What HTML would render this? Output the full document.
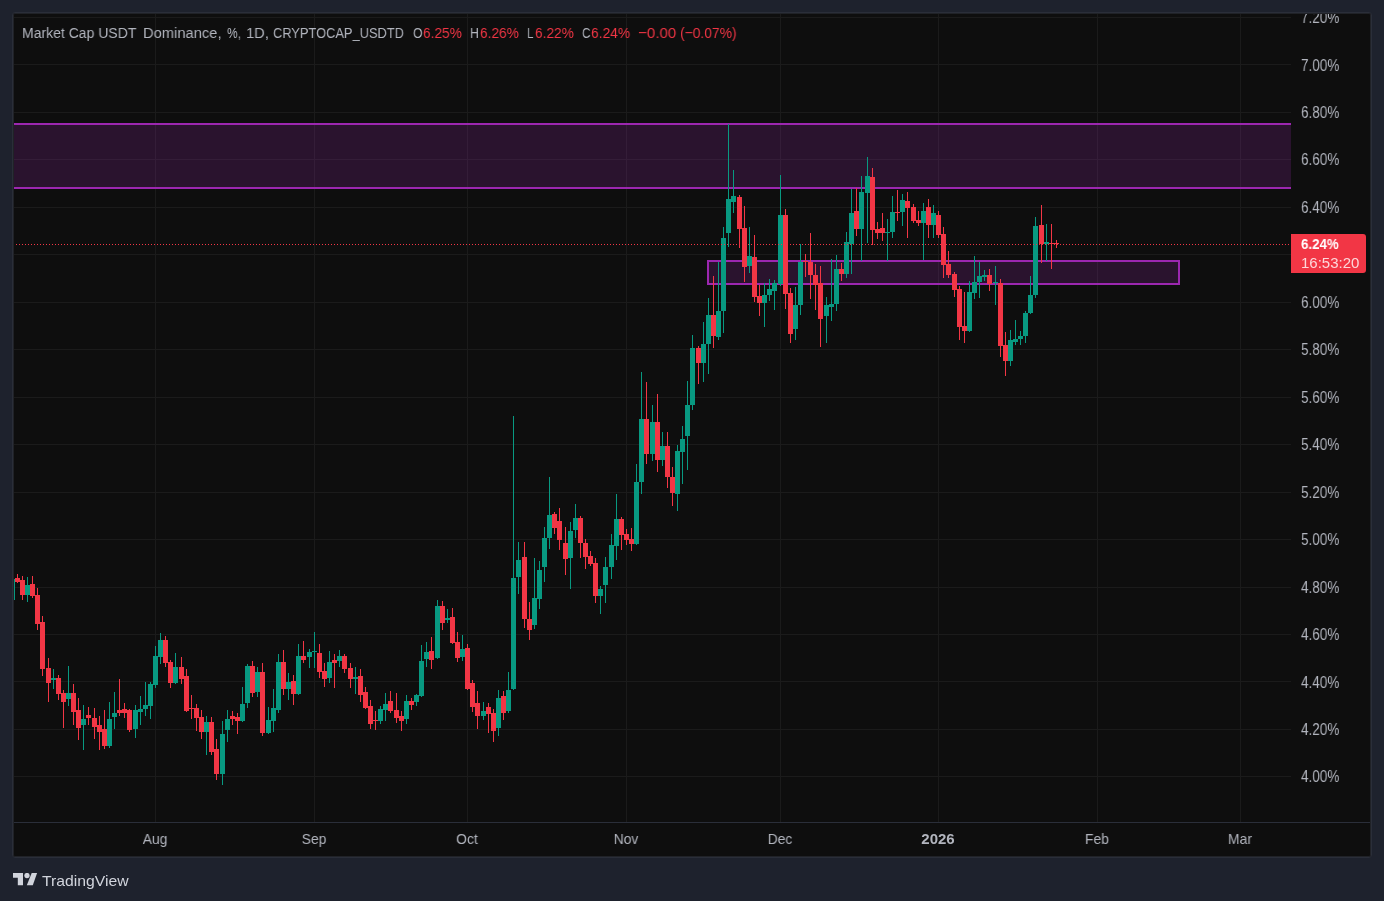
<!DOCTYPE html>
<html><head><meta charset="utf-8">
<style>
html,body{margin:0;padding:0;}
body{-webkit-font-smoothing:antialiased;width:1384px;height:901px;background:#1e222d;position:relative;overflow:hidden;font-family:"Liberation Sans",sans-serif;}
#panel{position:absolute;left:12px;top:12px;width:1360px;height:846px;box-sizing:border-box;border:1px solid #2a2e39;border-radius:3px;background:#0e0e0e;box-shadow:inset 0 0 0 1px #202227;}
.pl{will-change:transform;position:absolute;left:1301px;font-size:16px;line-height:17px;transform:scaleX(0.845);transform-origin:0 0;color:#b2b5be;white-space:nowrap;}
.tl{will-change:transform;position:absolute;top:830.3px;width:80px;text-align:center;font-size:15px;transform:scaleX(0.93);line-height:17px;color:#b2b5be;}
.tl.b{font-weight:bold;transform:scaleX(1.0);}
#hdr{}
.hp{will-change:transform;position:absolute;top:23.6px;font-size:15.5px;line-height:17px;white-space:nowrap;transform-origin:0 0;}
.r{color:#f23645;}
#plab{position:absolute;left:1291px;top:234px;width:75px;height:39px;background:#f23645;border-radius:0 3px 3px 0;}
#plab div{will-change:transform;position:absolute;left:10px;font-size:14px;line-height:17px;color:#fff;white-space:nowrap;}
#clip{position:absolute;left:14px;top:14px;width:1356px;height:842px;overflow:hidden;}
#logo{position:absolute;left:13px;top:872.6px;}
#logotxt{will-change:transform;position:absolute;left:41.5px;top:871.5px;font-size:15px;line-height:18px;color:#d1d4dc;transform:scaleX(1.05);transform-origin:0 0;}
</style></head><body>
<div id="panel"></div>
<svg width="1384" height="901" style="position:absolute;left:0;top:0" shape-rendering="crispEdges">
<defs><clipPath id="pc"><rect x="14" y="14" width="1277" height="808"/></clipPath></defs>
<g clip-path="url(#pc)">
<rect x="14" y="776" width="1277" height="1" fill="#1b1b1b"/><rect x="14" y="729" width="1277" height="1" fill="#1b1b1b"/><rect x="14" y="681" width="1277" height="1" fill="#1b1b1b"/><rect x="14" y="634" width="1277" height="1" fill="#1b1b1b"/><rect x="14" y="587" width="1277" height="1" fill="#1b1b1b"/><rect x="14" y="539" width="1277" height="1" fill="#1b1b1b"/><rect x="14" y="492" width="1277" height="1" fill="#1b1b1b"/><rect x="14" y="444" width="1277" height="1" fill="#1b1b1b"/><rect x="14" y="397" width="1277" height="1" fill="#1b1b1b"/><rect x="14" y="349" width="1277" height="1" fill="#1b1b1b"/><rect x="14" y="302" width="1277" height="1" fill="#1b1b1b"/><rect x="14" y="254" width="1277" height="1" fill="#1b1b1b"/><rect x="14" y="207" width="1277" height="1" fill="#1b1b1b"/><rect x="14" y="159" width="1277" height="1" fill="#1b1b1b"/><rect x="14" y="112" width="1277" height="1" fill="#1b1b1b"/><rect x="14" y="64" width="1277" height="1" fill="#1b1b1b"/><rect x="14" y="17" width="1277" height="1" fill="#1b1b1b"/><rect x="155" y="14" width="1" height="808" fill="#1b1b1b"/><rect x="314" y="14" width="1" height="808" fill="#1b1b1b"/><rect x="467" y="14" width="1" height="808" fill="#1b1b1b"/><rect x="626" y="14" width="1" height="808" fill="#1b1b1b"/><rect x="780" y="14" width="1" height="808" fill="#1b1b1b"/><rect x="938" y="14" width="1" height="808" fill="#1b1b1b"/><rect x="1097" y="14" width="1" height="808" fill="#1b1b1b"/><rect x="1240" y="14" width="1" height="808" fill="#1b1b1b"/>
<rect x="14" y="123" width="1277" height="66" fill="rgba(156,39,176,0.2)"/><rect x="14" y="123" width="1277" height="2" fill="#9c27b0"/><rect x="14" y="187" width="1277" height="2" fill="#9c27b0"/><rect x="707" y="260" width="473" height="25" fill="rgba(156,39,176,0.2)"/><rect x="708" y="261" width="471" height="23" fill="none" stroke="#9c27b0" stroke-width="2"/>
<rect x="12" y="577" width="1" height="25" fill="#089981"/><rect x="10" y="579" width="5" height="21" fill="#089981"/><rect x="17" y="574" width="1" height="9" fill="#f23645"/><rect x="15" y="578" width="5" height="4" fill="#f23645"/><rect x="22" y="576" width="1" height="24" fill="#f23645"/><rect x="20" y="580" width="5" height="15" fill="#f23645"/><rect x="27" y="577" width="1" height="25" fill="#089981"/><rect x="25" y="585" width="5" height="10" fill="#089981"/><rect x="32" y="576" width="1" height="22" fill="#f23645"/><rect x="30" y="584" width="5" height="12" fill="#f23645"/><rect x="37" y="588" width="1" height="42" fill="#f23645"/><rect x="35" y="595" width="5" height="29" fill="#f23645"/><rect x="42" y="616" width="1" height="60" fill="#f23645"/><rect x="40" y="622" width="5" height="47" fill="#f23645"/><rect x="48" y="658" width="1" height="44" fill="#f23645"/><rect x="46" y="668" width="5" height="15" fill="#f23645"/><rect x="53" y="669" width="1" height="20" fill="#089981"/><rect x="51" y="678" width="5" height="2" fill="#089981"/><rect x="58" y="675" width="1" height="25" fill="#f23645"/><rect x="56" y="678" width="5" height="16" fill="#f23645"/><rect x="63" y="690" width="1" height="38" fill="#f23645"/><rect x="61" y="693" width="5" height="9" fill="#f23645"/><rect x="68" y="666" width="1" height="40" fill="#089981"/><rect x="66" y="693" width="5" height="6" fill="#089981"/><rect x="73" y="684" width="1" height="41" fill="#f23645"/><rect x="71" y="693" width="5" height="19" fill="#f23645"/><rect x="78" y="698" width="1" height="42" fill="#f23645"/><rect x="76" y="710" width="5" height="18" fill="#f23645"/><rect x="83" y="705" width="1" height="45" fill="#089981"/><rect x="81" y="719" width="5" height="6" fill="#089981"/><rect x="88" y="707" width="1" height="18" fill="#f23645"/><rect x="86" y="715" width="5" height="3" fill="#f23645"/><rect x="94" y="708" width="1" height="31" fill="#f23645"/><rect x="92" y="718" width="5" height="9" fill="#f23645"/><rect x="99" y="716" width="1" height="34" fill="#f23645"/><rect x="97" y="725" width="5" height="7" fill="#f23645"/><rect x="104" y="710" width="1" height="39" fill="#f23645"/><rect x="102" y="729" width="5" height="17" fill="#f23645"/><rect x="109" y="702" width="1" height="46" fill="#089981"/><rect x="107" y="719" width="5" height="27" fill="#089981"/><rect x="114" y="692" width="1" height="37" fill="#089981"/><rect x="112" y="713" width="5" height="4" fill="#089981"/><rect x="119" y="679" width="1" height="37" fill="#f23645"/><rect x="117" y="710" width="5" height="3" fill="#f23645"/><rect x="124" y="703" width="1" height="15" fill="#f23645"/><rect x="122" y="709" width="5" height="4" fill="#f23645"/><rect x="129" y="709" width="1" height="23" fill="#f23645"/><rect x="127" y="710" width="5" height="20" fill="#f23645"/><rect x="135" y="705" width="1" height="33" fill="#089981"/><rect x="133" y="710" width="5" height="19" fill="#089981"/><rect x="140" y="696" width="1" height="29" fill="#089981"/><rect x="138" y="709" width="5" height="3" fill="#089981"/><rect x="145" y="682" width="1" height="34" fill="#089981"/><rect x="143" y="705" width="5" height="4" fill="#089981"/><rect x="150" y="682" width="1" height="37" fill="#089981"/><rect x="148" y="684" width="5" height="22" fill="#089981"/><rect x="155" y="646" width="1" height="42" fill="#089981"/><rect x="153" y="656" width="5" height="29" fill="#089981"/><rect x="160" y="633" width="1" height="31" fill="#089981"/><rect x="158" y="640" width="5" height="17" fill="#089981"/><rect x="165" y="636" width="1" height="31" fill="#f23645"/><rect x="163" y="640" width="5" height="23" fill="#f23645"/><rect x="170" y="660" width="1" height="28" fill="#f23645"/><rect x="168" y="662" width="5" height="21" fill="#f23645"/><rect x="175" y="653" width="1" height="31" fill="#089981"/><rect x="173" y="667" width="5" height="16" fill="#089981"/><rect x="181" y="657" width="1" height="27" fill="#f23645"/><rect x="179" y="667" width="5" height="12" fill="#f23645"/><rect x="186" y="669" width="1" height="43" fill="#f23645"/><rect x="184" y="676" width="5" height="35" fill="#f23645"/><rect x="191" y="695" width="1" height="24" fill="#f23645"/><rect x="189" y="708" width="5" height="1" fill="#f23645"/><rect x="196" y="704" width="1" height="27" fill="#f23645"/><rect x="194" y="708" width="5" height="10" fill="#f23645"/><rect x="201" y="710" width="1" height="29" fill="#f23645"/><rect x="199" y="717" width="5" height="15" fill="#f23645"/><rect x="206" y="716" width="1" height="39" fill="#089981"/><rect x="204" y="722" width="5" height="10" fill="#089981"/><rect x="211" y="717" width="1" height="38" fill="#f23645"/><rect x="209" y="722" width="5" height="30" fill="#f23645"/><rect x="216" y="739" width="1" height="41" fill="#f23645"/><rect x="214" y="749" width="5" height="25" fill="#f23645"/><rect x="222" y="721" width="1" height="64" fill="#089981"/><rect x="220" y="734" width="5" height="40" fill="#089981"/><rect x="227" y="710" width="1" height="32" fill="#089981"/><rect x="225" y="719" width="5" height="11" fill="#089981"/><rect x="232" y="711" width="1" height="14" fill="#f23645"/><rect x="230" y="716" width="5" height="3" fill="#f23645"/><rect x="237" y="713" width="1" height="21" fill="#f23645"/><rect x="235" y="717" width="5" height="4" fill="#f23645"/><rect x="242" y="687" width="1" height="35" fill="#089981"/><rect x="240" y="704" width="5" height="17" fill="#089981"/><rect x="247" y="664" width="1" height="44" fill="#089981"/><rect x="245" y="666" width="5" height="37" fill="#089981"/><rect x="252" y="661" width="1" height="36" fill="#f23645"/><rect x="250" y="666" width="5" height="27" fill="#f23645"/><rect x="257" y="667" width="1" height="30" fill="#089981"/><rect x="255" y="672" width="5" height="20" fill="#089981"/><rect x="262" y="663" width="1" height="73" fill="#f23645"/><rect x="260" y="672" width="5" height="61" fill="#f23645"/><rect x="268" y="707" width="1" height="27" fill="#089981"/><rect x="266" y="720" width="5" height="13" fill="#089981"/><rect x="273" y="689" width="1" height="43" fill="#089981"/><rect x="271" y="708" width="5" height="13" fill="#089981"/><rect x="278" y="654" width="1" height="59" fill="#089981"/><rect x="276" y="662" width="5" height="48" fill="#089981"/><rect x="283" y="650" width="1" height="45" fill="#f23645"/><rect x="281" y="662" width="5" height="27" fill="#f23645"/><rect x="288" y="673" width="1" height="27" fill="#089981"/><rect x="286" y="682" width="5" height="7" fill="#089981"/><rect x="293" y="675" width="1" height="30" fill="#f23645"/><rect x="291" y="681" width="5" height="13" fill="#f23645"/><rect x="298" y="644" width="1" height="51" fill="#089981"/><rect x="296" y="656" width="5" height="38" fill="#089981"/><rect x="303" y="641" width="1" height="22" fill="#f23645"/><rect x="301" y="656" width="5" height="4" fill="#f23645"/><rect x="309" y="649" width="1" height="19" fill="#089981"/><rect x="307" y="652" width="5" height="5" fill="#089981"/><rect x="314" y="632" width="1" height="36" fill="#089981"/><rect x="312" y="651" width="5" height="1" fill="#089981"/><rect x="319" y="644" width="1" height="34" fill="#f23645"/><rect x="317" y="653" width="5" height="19" fill="#f23645"/><rect x="324" y="663" width="1" height="24" fill="#f23645"/><rect x="322" y="671" width="5" height="8" fill="#f23645"/><rect x="329" y="651" width="1" height="32" fill="#089981"/><rect x="327" y="662" width="5" height="16" fill="#089981"/><rect x="334" y="654" width="1" height="34" fill="#f23645"/><rect x="332" y="660" width="5" height="3" fill="#f23645"/><rect x="339" y="650" width="1" height="17" fill="#089981"/><rect x="337" y="656" width="5" height="5" fill="#089981"/><rect x="344" y="654" width="1" height="19" fill="#f23645"/><rect x="342" y="656" width="5" height="13" fill="#f23645"/><rect x="350" y="663" width="1" height="25" fill="#f23645"/><rect x="348" y="668" width="5" height="11" fill="#f23645"/><rect x="355" y="667" width="1" height="27" fill="#089981"/><rect x="353" y="677" width="5" height="2" fill="#089981"/><rect x="360" y="669" width="1" height="33" fill="#f23645"/><rect x="358" y="676" width="5" height="19" fill="#f23645"/><rect x="365" y="687" width="1" height="22" fill="#f23645"/><rect x="363" y="692" width="5" height="16" fill="#f23645"/><rect x="370" y="700" width="1" height="29" fill="#f23645"/><rect x="368" y="706" width="5" height="18" fill="#f23645"/><rect x="375" y="711" width="1" height="19" fill="#f23645"/><rect x="373" y="720" width="5" height="1" fill="#f23645"/><rect x="380" y="706" width="1" height="18" fill="#089981"/><rect x="378" y="709" width="5" height="12" fill="#089981"/><rect x="385" y="693" width="1" height="28" fill="#089981"/><rect x="383" y="704" width="5" height="6" fill="#089981"/><rect x="390" y="691" width="1" height="22" fill="#f23645"/><rect x="388" y="701" width="5" height="10" fill="#f23645"/><rect x="396" y="693" width="1" height="30" fill="#f23645"/><rect x="394" y="710" width="5" height="8" fill="#f23645"/><rect x="401" y="711" width="1" height="20" fill="#f23645"/><rect x="399" y="716" width="5" height="5" fill="#f23645"/><rect x="406" y="695" width="1" height="29" fill="#089981"/><rect x="404" y="701" width="5" height="18" fill="#089981"/><rect x="411" y="698" width="1" height="12" fill="#f23645"/><rect x="409" y="701" width="5" height="4" fill="#f23645"/><rect x="416" y="694" width="1" height="12" fill="#089981"/><rect x="414" y="695" width="5" height="7" fill="#089981"/><rect x="421" y="645" width="1" height="52" fill="#089981"/><rect x="419" y="661" width="5" height="35" fill="#089981"/><rect x="426" y="642" width="1" height="25" fill="#089981"/><rect x="424" y="652" width="5" height="7" fill="#089981"/><rect x="431" y="637" width="1" height="32" fill="#f23645"/><rect x="429" y="651" width="5" height="9" fill="#f23645"/><rect x="437" y="600" width="1" height="59" fill="#089981"/><rect x="435" y="606" width="5" height="52" fill="#089981"/><rect x="442" y="601" width="1" height="29" fill="#f23645"/><rect x="440" y="606" width="5" height="17" fill="#f23645"/><rect x="447" y="609" width="1" height="14" fill="#089981"/><rect x="445" y="618" width="5" height="2" fill="#089981"/><rect x="452" y="608" width="1" height="36" fill="#f23645"/><rect x="450" y="617" width="5" height="26" fill="#f23645"/><rect x="457" y="632" width="1" height="30" fill="#f23645"/><rect x="455" y="642" width="5" height="16" fill="#f23645"/><rect x="462" y="635" width="1" height="26" fill="#089981"/><rect x="460" y="649" width="5" height="8" fill="#089981"/><rect x="467" y="644" width="1" height="46" fill="#f23645"/><rect x="465" y="648" width="5" height="41" fill="#f23645"/><rect x="472" y="680" width="1" height="32" fill="#f23645"/><rect x="470" y="683" width="5" height="24" fill="#f23645"/><rect x="477" y="691" width="1" height="38" fill="#f23645"/><rect x="475" y="703" width="5" height="13" fill="#f23645"/><rect x="483" y="702" width="1" height="18" fill="#089981"/><rect x="481" y="711" width="5" height="5" fill="#089981"/><rect x="488" y="703" width="1" height="30" fill="#f23645"/><rect x="486" y="707" width="5" height="7" fill="#f23645"/><rect x="493" y="709" width="1" height="33" fill="#f23645"/><rect x="491" y="713" width="5" height="18" fill="#f23645"/><rect x="498" y="690" width="1" height="46" fill="#089981"/><rect x="496" y="698" width="5" height="30" fill="#089981"/><rect x="503" y="691" width="1" height="29" fill="#f23645"/><rect x="501" y="696" width="5" height="17" fill="#f23645"/><rect x="508" y="672" width="1" height="41" fill="#089981"/><rect x="506" y="690" width="5" height="21" fill="#089981"/><rect x="513" y="416" width="1" height="274" fill="#089981"/><rect x="511" y="578" width="5" height="111" fill="#089981"/><rect x="518" y="542" width="1" height="52" fill="#089981"/><rect x="516" y="560" width="5" height="17" fill="#089981"/><rect x="524" y="542" width="1" height="86" fill="#f23645"/><rect x="522" y="557" width="5" height="62" fill="#f23645"/><rect x="529" y="602" width="1" height="38" fill="#f23645"/><rect x="527" y="619" width="5" height="11" fill="#f23645"/><rect x="534" y="558" width="1" height="71" fill="#089981"/><rect x="532" y="598" width="5" height="27" fill="#089981"/><rect x="539" y="561" width="1" height="48" fill="#089981"/><rect x="537" y="570" width="5" height="29" fill="#089981"/><rect x="544" y="527" width="1" height="55" fill="#089981"/><rect x="542" y="538" width="5" height="29" fill="#089981"/><rect x="549" y="477" width="1" height="72" fill="#089981"/><rect x="547" y="515" width="5" height="23" fill="#089981"/><rect x="554" y="512" width="1" height="22" fill="#f23645"/><rect x="552" y="514" width="5" height="14" fill="#f23645"/><rect x="559" y="508" width="1" height="42" fill="#f23645"/><rect x="557" y="521" width="5" height="19" fill="#f23645"/><rect x="565" y="527" width="1" height="48" fill="#f23645"/><rect x="563" y="543" width="5" height="16" fill="#f23645"/><rect x="570" y="522" width="1" height="67" fill="#089981"/><rect x="568" y="531" width="5" height="27" fill="#089981"/><rect x="575" y="504" width="1" height="34" fill="#089981"/><rect x="573" y="518" width="5" height="12" fill="#089981"/><rect x="580" y="516" width="1" height="42" fill="#f23645"/><rect x="578" y="518" width="5" height="25" fill="#f23645"/><rect x="585" y="539" width="1" height="30" fill="#f23645"/><rect x="583" y="543" width="5" height="14" fill="#f23645"/><rect x="590" y="551" width="1" height="15" fill="#f23645"/><rect x="588" y="556" width="5" height="8" fill="#f23645"/><rect x="595" y="558" width="1" height="45" fill="#f23645"/><rect x="593" y="563" width="5" height="33" fill="#f23645"/><rect x="600" y="586" width="1" height="28" fill="#089981"/><rect x="598" y="589" width="5" height="7" fill="#089981"/><rect x="605" y="557" width="1" height="46" fill="#089981"/><rect x="603" y="567" width="5" height="18" fill="#089981"/><rect x="611" y="534" width="1" height="45" fill="#089981"/><rect x="609" y="545" width="5" height="22" fill="#089981"/><rect x="616" y="494" width="1" height="66" fill="#089981"/><rect x="614" y="519" width="5" height="27" fill="#089981"/><rect x="621" y="517" width="1" height="33" fill="#f23645"/><rect x="619" y="519" width="5" height="16" fill="#f23645"/><rect x="626" y="529" width="1" height="16" fill="#f23645"/><rect x="624" y="534" width="5" height="6" fill="#f23645"/><rect x="631" y="528" width="1" height="23" fill="#f23645"/><rect x="629" y="539" width="5" height="5" fill="#f23645"/><rect x="636" y="464" width="1" height="81" fill="#089981"/><rect x="634" y="482" width="5" height="62" fill="#089981"/><rect x="641" y="372" width="1" height="122" fill="#089981"/><rect x="639" y="419" width="5" height="63" fill="#089981"/><rect x="646" y="382" width="1" height="82" fill="#f23645"/><rect x="644" y="419" width="5" height="35" fill="#f23645"/><rect x="652" y="405" width="1" height="56" fill="#089981"/><rect x="650" y="422" width="5" height="32" fill="#089981"/><rect x="657" y="394" width="1" height="78" fill="#f23645"/><rect x="655" y="422" width="5" height="38" fill="#f23645"/><rect x="662" y="432" width="1" height="34" fill="#089981"/><rect x="660" y="446" width="5" height="14" fill="#089981"/><rect x="667" y="432" width="1" height="56" fill="#f23645"/><rect x="665" y="446" width="5" height="31" fill="#f23645"/><rect x="672" y="467" width="1" height="39" fill="#f23645"/><rect x="670" y="477" width="5" height="16" fill="#f23645"/><rect x="677" y="445" width="1" height="66" fill="#089981"/><rect x="675" y="451" width="5" height="43" fill="#089981"/><rect x="682" y="426" width="1" height="58" fill="#089981"/><rect x="680" y="439" width="5" height="13" fill="#089981"/><rect x="687" y="381" width="1" height="89" fill="#089981"/><rect x="685" y="405" width="5" height="31" fill="#089981"/><rect x="692" y="335" width="1" height="75" fill="#089981"/><rect x="690" y="348" width="5" height="57" fill="#089981"/><rect x="698" y="346" width="1" height="38" fill="#f23645"/><rect x="696" y="348" width="5" height="15" fill="#f23645"/><rect x="703" y="322" width="1" height="60" fill="#089981"/><rect x="701" y="344" width="5" height="19" fill="#089981"/><rect x="708" y="298" width="1" height="76" fill="#089981"/><rect x="706" y="315" width="5" height="29" fill="#089981"/><rect x="713" y="276" width="1" height="72" fill="#f23645"/><rect x="711" y="315" width="5" height="21" fill="#f23645"/><rect x="718" y="262" width="1" height="78" fill="#089981"/><rect x="716" y="311" width="5" height="26" fill="#089981"/><rect x="723" y="227" width="1" height="106" fill="#089981"/><rect x="721" y="238" width="5" height="73" fill="#089981"/><rect x="728" y="124" width="1" height="123" fill="#089981"/><rect x="726" y="199" width="5" height="34" fill="#089981"/><rect x="733" y="170" width="1" height="43" fill="#089981"/><rect x="731" y="196" width="5" height="6" fill="#089981"/><rect x="739" y="195" width="1" height="53" fill="#f23645"/><rect x="737" y="197" width="5" height="32" fill="#f23645"/><rect x="744" y="206" width="1" height="76" fill="#f23645"/><rect x="742" y="228" width="5" height="39" fill="#f23645"/><rect x="749" y="227" width="1" height="46" fill="#089981"/><rect x="747" y="256" width="5" height="10" fill="#089981"/><rect x="754" y="235" width="1" height="67" fill="#f23645"/><rect x="752" y="257" width="5" height="40" fill="#f23645"/><rect x="759" y="285" width="1" height="31" fill="#f23645"/><rect x="757" y="296" width="5" height="7" fill="#f23645"/><rect x="764" y="283" width="1" height="44" fill="#089981"/><rect x="762" y="295" width="5" height="8" fill="#089981"/><rect x="769" y="279" width="1" height="22" fill="#089981"/><rect x="767" y="289" width="5" height="6" fill="#089981"/><rect x="774" y="280" width="1" height="30" fill="#089981"/><rect x="772" y="283" width="5" height="8" fill="#089981"/><rect x="780" y="175" width="1" height="111" fill="#089981"/><rect x="778" y="215" width="5" height="69" fill="#089981"/><rect x="785" y="209" width="1" height="100" fill="#f23645"/><rect x="783" y="215" width="5" height="79" fill="#f23645"/><rect x="790" y="288" width="1" height="55" fill="#f23645"/><rect x="788" y="293" width="5" height="41" fill="#f23645"/><rect x="795" y="287" width="1" height="53" fill="#089981"/><rect x="793" y="305" width="5" height="24" fill="#089981"/><rect x="800" y="244" width="1" height="71" fill="#089981"/><rect x="798" y="262" width="5" height="43" fill="#089981"/><rect x="805" y="254" width="1" height="23" fill="#f23645"/><rect x="803" y="261" width="5" height="1" fill="#f23645"/><rect x="810" y="233" width="1" height="66" fill="#f23645"/><rect x="808" y="262" width="5" height="13" fill="#f23645"/><rect x="815" y="264" width="1" height="46" fill="#f23645"/><rect x="813" y="275" width="5" height="10" fill="#f23645"/><rect x="820" y="266" width="1" height="81" fill="#f23645"/><rect x="818" y="283" width="5" height="36" fill="#f23645"/><rect x="826" y="297" width="1" height="46" fill="#089981"/><rect x="824" y="305" width="5" height="11" fill="#089981"/><rect x="831" y="259" width="1" height="62" fill="#089981"/><rect x="829" y="304" width="5" height="3" fill="#089981"/><rect x="836" y="255" width="1" height="56" fill="#089981"/><rect x="834" y="269" width="5" height="35" fill="#089981"/><rect x="841" y="263" width="1" height="18" fill="#f23645"/><rect x="839" y="269" width="5" height="5" fill="#f23645"/><rect x="846" y="232" width="1" height="46" fill="#089981"/><rect x="844" y="242" width="5" height="32" fill="#089981"/><rect x="851" y="189" width="1" height="85" fill="#089981"/><rect x="849" y="213" width="5" height="31" fill="#089981"/><rect x="856" y="188" width="1" height="48" fill="#f23645"/><rect x="854" y="211" width="5" height="18" fill="#f23645"/><rect x="861" y="176" width="1" height="85" fill="#089981"/><rect x="859" y="192" width="5" height="37" fill="#089981"/><rect x="867" y="157" width="1" height="86" fill="#089981"/><rect x="865" y="176" width="5" height="17" fill="#089981"/><rect x="872" y="168" width="1" height="77" fill="#f23645"/><rect x="870" y="177" width="5" height="53" fill="#f23645"/><rect x="877" y="222" width="1" height="17" fill="#f23645"/><rect x="875" y="229" width="5" height="4" fill="#f23645"/><rect x="882" y="213" width="1" height="28" fill="#f23645"/><rect x="880" y="228" width="5" height="5" fill="#f23645"/><rect x="887" y="219" width="1" height="42" fill="#089981"/><rect x="885" y="232" width="5" height="1" fill="#089981"/><rect x="892" y="196" width="1" height="42" fill="#089981"/><rect x="890" y="212" width="5" height="20" fill="#089981"/><rect x="897" y="190" width="1" height="31" fill="#f23645"/><rect x="895" y="212" width="5" height="1" fill="#f23645"/><rect x="902" y="194" width="1" height="32" fill="#089981"/><rect x="900" y="200" width="5" height="12" fill="#089981"/><rect x="907" y="192" width="1" height="46" fill="#f23645"/><rect x="905" y="201" width="5" height="7" fill="#f23645"/><rect x="913" y="204" width="1" height="19" fill="#f23645"/><rect x="911" y="207" width="5" height="14" fill="#f23645"/><rect x="918" y="211" width="1" height="15" fill="#f23645"/><rect x="916" y="220" width="5" height="3" fill="#f23645"/><rect x="923" y="203" width="1" height="57" fill="#089981"/><rect x="921" y="211" width="5" height="12" fill="#089981"/><rect x="928" y="199" width="1" height="39" fill="#f23645"/><rect x="926" y="207" width="5" height="18" fill="#f23645"/><rect x="933" y="205" width="1" height="33" fill="#089981"/><rect x="931" y="213" width="5" height="12" fill="#089981"/><rect x="938" y="211" width="1" height="27" fill="#f23645"/><rect x="936" y="215" width="5" height="20" fill="#f23645"/><rect x="943" y="227" width="1" height="51" fill="#f23645"/><rect x="941" y="234" width="5" height="31" fill="#f23645"/><rect x="948" y="251" width="1" height="27" fill="#f23645"/><rect x="946" y="264" width="5" height="11" fill="#f23645"/><rect x="954" y="272" width="1" height="25" fill="#f23645"/><rect x="952" y="274" width="5" height="16" fill="#f23645"/><rect x="959" y="286" width="1" height="54" fill="#f23645"/><rect x="957" y="289" width="5" height="38" fill="#f23645"/><rect x="964" y="292" width="1" height="51" fill="#f23645"/><rect x="962" y="326" width="5" height="5" fill="#f23645"/><rect x="969" y="281" width="1" height="51" fill="#089981"/><rect x="967" y="292" width="5" height="39" fill="#089981"/><rect x="974" y="256" width="1" height="43" fill="#089981"/><rect x="972" y="282" width="5" height="11" fill="#089981"/><rect x="979" y="262" width="1" height="36" fill="#089981"/><rect x="977" y="276" width="5" height="6" fill="#089981"/><rect x="984" y="270" width="1" height="11" fill="#089981"/><rect x="982" y="275" width="5" height="2" fill="#089981"/><rect x="989" y="269" width="1" height="22" fill="#f23645"/><rect x="987" y="275" width="5" height="9" fill="#f23645"/><rect x="995" y="266" width="1" height="39" fill="#089981"/><rect x="993" y="282" width="5" height="1" fill="#089981"/><rect x="1000" y="279" width="1" height="78" fill="#f23645"/><rect x="998" y="283" width="5" height="63" fill="#f23645"/><rect x="1005" y="332" width="1" height="44" fill="#f23645"/><rect x="1003" y="345" width="5" height="16" fill="#f23645"/><rect x="1010" y="330" width="1" height="36" fill="#089981"/><rect x="1008" y="340" width="5" height="21" fill="#089981"/><rect x="1015" y="320" width="1" height="25" fill="#089981"/><rect x="1013" y="339" width="5" height="3" fill="#089981"/><rect x="1020" y="331" width="1" height="14" fill="#089981"/><rect x="1018" y="336" width="5" height="3" fill="#089981"/><rect x="1025" y="311" width="1" height="32" fill="#089981"/><rect x="1023" y="313" width="5" height="23" fill="#089981"/><rect x="1030" y="276" width="1" height="38" fill="#089981"/><rect x="1028" y="295" width="5" height="18" fill="#089981"/><rect x="1035" y="217" width="1" height="81" fill="#089981"/><rect x="1033" y="226" width="5" height="69" fill="#089981"/><rect x="1041" y="205" width="1" height="58" fill="#f23645"/><rect x="1039" y="225" width="5" height="19" fill="#f23645"/><rect x="1046" y="224" width="1" height="37" fill="#089981"/><rect x="1044" y="242" width="5" height="2" fill="#089981"/><rect x="1051" y="224" width="1" height="45" fill="#f23645"/><rect x="1049" y="243" width="5" height="1" fill="#f23645"/><rect x="1056" y="240" width="1" height="8" fill="#f23645"/><rect x="1054" y="243" width="5" height="1" fill="#f23645"/>
<line x1="16" y1="244.5" x2="1291" y2="244.5" stroke="#f23645" stroke-width="1" stroke-dasharray="1 2"/>
</g>
<rect x="14" y="822" width="1356" height="1" fill="#2a2e39"/>
</svg>
<div id="clip"><div style="position:absolute;left:-14px;top:-14px;width:1384px;height:901px;">
<div class="pl" style="top:768.4px">4.00%</div><div class="pl" style="top:720.9px">4.20%</div><div class="pl" style="top:673.5px">4.40%</div><div class="pl" style="top:626.0px">4.60%</div><div class="pl" style="top:578.6px">4.80%</div><div class="pl" style="top:531.1px">5.00%</div><div class="pl" style="top:483.6px">5.20%</div><div class="pl" style="top:436.2px">5.40%</div><div class="pl" style="top:388.7px">5.60%</div><div class="pl" style="top:341.3px">5.80%</div><div class="pl" style="top:293.8px">6.00%</div><div class="pl" style="top:246.3px">6.20%</div><div class="pl" style="top:198.9px">6.40%</div><div class="pl" style="top:151.4px">6.60%</div><div class="pl" style="top:104.0px">6.80%</div><div class="pl" style="top:56.5px">7.00%</div><div class="pl" style="top:9.0px">7.20%</div>
</div></div>
<div class="tl" style="left:115px">Aug</div><div class="tl" style="left:274px">Sep</div><div class="tl" style="left:427px">Oct</div><div class="tl" style="left:586px">Nov</div><div class="tl" style="left:740px">Dec</div><div class="tl b" style="left:898px">2026</div><div class="tl" style="left:1057px">Feb</div><div class="tl" style="left:1200px">Mar</div>
<div class="hp" style="left:22.2px;color:#b2b5be;transform:scaleX(0.903)">Market Cap USDT</div><div class="hp" style="left:143.1px;color:#b2b5be;transform:scaleX(0.949)">Dominance,</div><div class="hp" style="left:226.9px;color:#b2b5be;transform:scaleX(0.779)">%,</div><div class="hp" style="left:246.0px;color:#b2b5be;transform:scaleX(0.953)">1D,</div><div class="hp" style="left:272.6px;color:#b2b5be;transform:scaleX(0.829)">CRYPTOCAP_USDTD</div><div class="hp" style="left:412.7px;color:#b2b5be;transform:scaleX(0.788)">O</div><div class="hp" style="left:422.5px;color:#f23645;transform:scaleX(0.883)">6.25%</div><div class="hp" style="left:469.8px;color:#b2b5be;transform:scaleX(0.795)">H</div><div class="hp" style="left:479.6px;color:#f23645;transform:scaleX(0.883)">6.26%</div><div class="hp" style="left:527.2px;color:#b2b5be;transform:scaleX(0.754)">L</div><div class="hp" style="left:534.5px;color:#f23645;transform:scaleX(0.883)">6.22%</div><div class="hp" style="left:581.7px;color:#b2b5be;transform:scaleX(0.759)">C</div><div class="hp" style="left:590.8px;color:#f23645;transform:scaleX(0.890)">6.24%</div><div class="hp" style="left:638.2px;color:#f23645;transform:scaleX(0.977)">−0.00</div><div class="hp" style="left:680.4px;color:#f23645;transform:scaleX(0.892)">(−0.07%)</div>
<div id="plab"><div style="top:2px;font-weight:bold;transform:scaleX(0.95);transform-origin:0 0">6.24%</div><div style="top:19.5px;font-size:15px;color:rgba(255,255,255,0.8);transform:scaleX(1.0);transform-origin:0 0">16:53:20</div></div>
<svg id="logo" width="26" height="14" viewBox="0 0 26 14">
<path d="M0 0H10V12.2H4.8V4.7H0Z" fill="#d1d4dc"/>
<circle cx="14" cy="2.55" r="2.65" fill="#d1d4dc"/>
<path d="M18.7 0H24.1L19.8 12.2H13.8Z" fill="#d1d4dc"/>
</svg>
<div id="logotxt">TradingView</div>
</body></html>
